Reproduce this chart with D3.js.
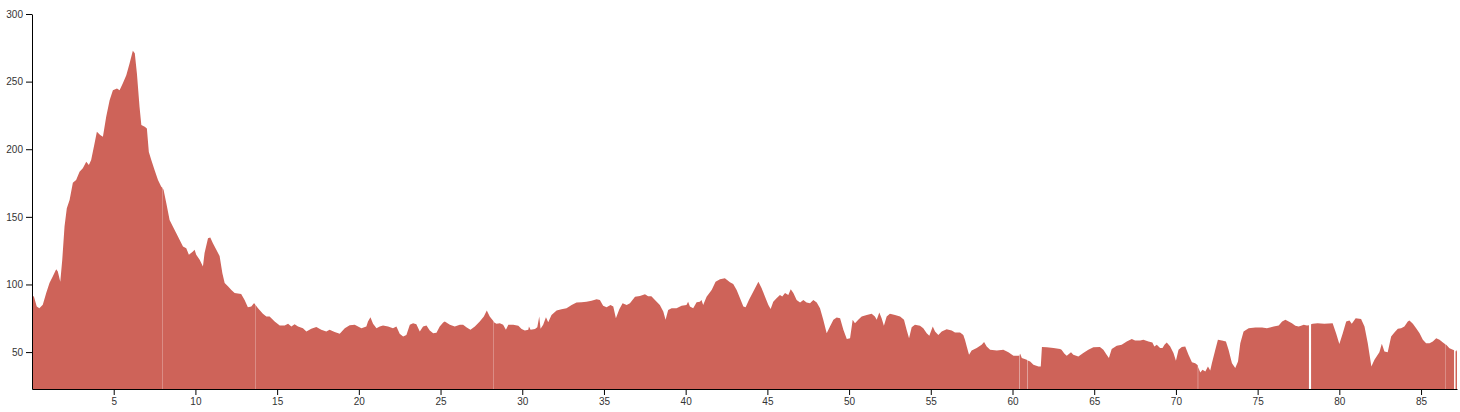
<!DOCTYPE html>
<html>
<head>
<meta charset="utf-8">
<script src="https://cdn.jsdelivr.net/npm/d3@7"></script>
<style>
  html, body { margin: 0; padding: 0; background: #fff; }
  svg { display: block; }
  .axis text { font-family: Arial, "Liberation Sans", sans-serif; font-size: 10px; fill: #333; }
</style>
</head>
<body>
<svg id="chart" width="1460" height="412"></svg>
<script>
// distance (km) along the route
const km = [
  0, 0.12, 0.29, 0.45, 0.66, 0.87, 1.07, 1.27, 1.48, 1.58, 1.73, 1.85, 1.99, 2.13, 2.3, 2.5, 2.7, 2.91, 3.11, 3.32,
  3.48, 3.62, 3.83, 3.97, 4.17, 4.34, 4.54, 4.75, 4.95, 5.2, 5.36, 5.56, 5.77, 5.97, 6.17, 6.29, 6.42, 6.58, 6.69, 6.9,
  7.03, 7.15, 7.3, 7.5, 7.71, 7.91, 7.982, 7.99, 7.998, 8.05, 8.22, 8.42, 8.62, 8.83, 9.03, 9.24, 9.44, 9.6, 9.85, 9.95,
  10.05, 10.26, 10.46, 10.56, 10.77, 10.91, 11.07, 11.28, 11.48, 11.65, 11.79, 11.99, 12.2, 12.4, 12.8, 13.01, 13.21, 13.42, 13.58, 13.652,
  13.66, 13.668, 13.83, 14.13, 14.34, 14.54, 14.85, 15.16, 15.46, 15.67, 15.87, 16.07, 16.28, 16.58, 16.79, 17.09, 17.4, 17.7, 18.01, 18.21,
  18.52, 18.83, 19.14, 19.44, 19.75, 19.95, 20.16, 20.46, 20.56, 20.71, 20.87, 21.08, 21.28, 21.48, 21.79, 22.09, 22.3, 22.5, 22.71, 22.91,
  23.12, 23.32, 23.52, 23.73, 23.93, 24.14, 24.34, 24.55, 24.75, 24.95, 25.16, 25.26, 25.57, 25.87, 26.18, 26.38, 26.58, 26.83, 27.1, 27.4,
  27.65, 27.83, 28.01, 28.22, 28.252, 28.26, 28.268, 28.42, 28.63, 28.83, 29.0, 29.15, 29.45, 29.76, 29.96, 30.16, 30.37, 30.41, 30.51, 30.78,
  30.92, 31.04, 31.12, 31.28, 31.45, 31.59, 31.79, 32.1, 32.4, 32.71, 33.02, 33.32, 33.63, 33.93, 34.24, 34.55, 34.75, 34.95, 35.16, 35.4,
  35.57, 35.73, 35.94, 36.14, 36.39, 36.59, 36.9, 37.2, 37.51, 37.7, 37.9, 38.12, 38.42, 38.63, 38.77, 38.93, 39.14, 39.44, 39.75, 40.05,
  40.15, 40.26, 40.46, 40.67, 40.87, 40.97, 41.07, 41.28, 41.59, 41.83, 42.1, 42.4, 42.71, 42.91, 43.12, 43.32, 43.53, 43.67, 43.87, 44.14,
  44.45, 44.65, 44.85, 45.06, 45.2, 45.36, 45.56, 45.77, 45.91, 46.08, 46.28, 46.43, 46.59, 46.79, 47.0, 47.2, 47.4, 47.61, 47.81, 48.02,
  48.22, 48.42, 48.63, 48.83, 49.04, 49.24, 49.45, 49.65, 49.86, 50.06, 50.22, 50.36, 50.56, 50.77, 51.08, 51.38, 51.58, 51.69, 51.85, 51.99,
  52.13, 52.3, 52.5, 52.81, 53.12, 53.36, 53.52, 53.67, 53.83, 54.03, 54.34, 54.54, 54.75, 54.91, 55.12, 55.26, 55.46, 55.67, 55.97, 56.28,
  56.48, 56.79, 56.99, 57.09, 57.2, 57.34, 57.5, 57.81, 58.11, 58.26, 58.42, 58.63, 59.04, 59.44, 59.75, 60.06, 60.36, 60.418, 60.43, 60.442,
  60.47, 60.57, 60.87, 60.908, 60.92, 60.932, 61.08, 61.28, 61.59, 61.73, 61.8, 62.1, 62.51, 62.91, 63.0, 63.18, 63.32, 63.58, 63.72, 64.03,
  64.33, 64.64, 64.95, 65.35, 65.56, 65.76, 65.9, 66.07, 66.38, 66.68, 66.99, 67.3, 67.5, 67.81, 68.01, 68.32, 68.56, 68.68, 68.83, 69.03,
  69.18, 69.3, 69.44, 69.65, 69.85, 70.0, 70.16, 70.36, 70.57, 70.77, 70.98, 71.18, 71.3, 71.34, 71.35, 71.36, 71.49, 71.63, 71.8, 71.96,
  72.1, 72.2, 72.41, 72.57, 72.82, 73.06, 73.22, 73.43, 73.63, 73.8, 73.94, 74.14, 74.45, 74.86, 75.27, 75.57, 75.98, 76.29, 76.5, 76.7,
  76.9, 77.1, 77.31, 77.51, 77.66, 77.82, 78.02, 78.14, 78.2, 78.27, 78.37, 78.67, 79.08, 79.59, 79.8, 80.0, 80.21, 80.42, 80.62, 80.76,
  81.0, 81.33, 81.54, 81.74, 81.96, 82.15, 82.35, 82.45, 82.6, 82.76, 82.96, 83.17, 83.37, 83.58, 83.78, 83.98, 84.19, 84.29, 84.5, 84.7,
  84.91, 85.11, 85.31, 85.52, 85.72, 85.93, 86.13, 86.34, 86.482, 86.49, 86.498, 86.54, 86.74, 86.95, 87.02, 87.07, 87.11, 87.15, 87.2
];

// measured value at each distance (null = missing reading)
const value = [
  92.3, 91, 83.7, 82.5, 85, 93.6, 101, 105.8, 111.3, 109.5, 102, 118, 142.8, 156.3, 162.5, 175.3, 177.3, 183.4, 185.9, 190.8,
  188.3, 192, 204.4, 213, 210.6, 209.2, 224, 236.3, 243.7, 245, 243.7, 248.7, 254.8, 263.4, 272.8, 271, 256, 231.4, 217.9, 216.6,
  215.4, 198, 192, 184.6, 177.3, 172.3, 171.5, null, 171, 170, 160, 147.7, 142.8, 137.9, 133, 128, 126.8, 121.9, 124.3, 125.6,
  122, 118.2, 113.2, 123.3, 134.2, 134.8, 130.5, 125.6, 121, 108.3, 101, 98.6, 96, 93.6, 93, 88.6, 83.2, 83.7, 86.2, 85.5,
  null, 85, 82.5, 78.3, 76.3, 76.3, 72.6, 69.6, 69.6, 71, 68.9, 70.5, 68.9, 67.7, 65.2, 67.2, 68.5, 66.5, 65.2, 66.5,
  64.8, 63.5, 67.7, 69.9, 70.2, 68.9, 67.7, 68.9, 72.6, 75.8, 71, 67.7, 68.9, 69.6, 68.9, 67.7, 68.9, 63.5, 61.5, 62.7,
  70.2, 71.4, 70.5, 65.2, 68.9, 69.6, 66, 64, 64.3, 68.9, 71.9, 72.6, 70.2, 68.9, 70.2, 70.2, 68.4, 66.5, 68.9, 72.6,
  76.3, 80.7, 76.3, 73.1, 72.5, null, 72, 70.9, 71.4, 70.2, 66.5, 70.2, 70.2, 69.4, 67, 66, 66.5, 68.9, 66.5, 67,
  68.4, 76.3, 67.2, 70.2, 75.8, 72, 77.5, 80.7, 81.7, 82.4, 84.9, 86.6, 86.8, 87.3, 88, 89.1, 88.6, 84.2, 83.2, 84.9,
  83.7, 75.1, 81.7, 86.1, 84.9, 86.1, 91, 91.5, 92.8, 91.3, 91.3, 88.6, 84.9, 80, 73.9, 81.2, 82.4, 82.4, 84.2, 84.9,
  87.3, 83.7, 82.4, 86.8, 87.3, 88.6, 84.9, 91, 96, 102.1, 103.8, 104.6, 101.6, 100.4, 96, 89.9, 83.7, 83.2, 88.6, 94.8,
  102.1, 97.2, 91.1, 84.9, 81.8, 87.3, 89.8, 92.3, 91.1, 93.6, 92.3, 96.5, 93.6, 88.6, 86.6, 88.6, 86.6, 86.1, 88.6, 86.6,
  82.4, 73.9, 64, 68.9, 73.9, 75.6, 75.1, 66.5, 59.6, 60.3, 73.9, 71.4, 73.9, 76.3, 77.5, 78.3, 76.3, 73.9, 79.3, 75.1,
  69.4, 76.3, 78.3, 77.5, 76.3, 73.9, 66.5, 60.3, 68.4, 70.2, 69.4, 67.7, 64, 62.1, 68.9, 65.2, 62.7, 65.2, 66.9, 66,
  64.5, 64.5, 62.7, 59.1, 54.2, 48, 51.2, 53, 55.4, 57.4, 54.2, 51.7, 51.2, 51.7, 49.8, 47.3, 47.3, 47.5, null, 48.2,
  48.8, 45.6, 44.3, 44, null, 43.8, 43.1, 40.6, 39.4, 39.4, 53.7, 53.5, 53, 52.2, 51.7, 48.8, 47.3, 49.8, 48, 46.8,
  49.3, 51.7, 53.5, 53.7, 51.7, 48, 45.6, 52.2, 54.7, 55.4, 57.8, 59.6, 58.6, 58.6, 59.1, 57.8, 57.1, 54.2, 55.4, 53,
  53, 55.4, 57.1, 54.2, 49.3, 43.6, 51.7, 53.7, 54.2, 48, 42.4, 41.8, 40.6, 40, null, 39, 34.9, 36.9, 35.6, 39.4,
  36.4, 41.8, 51.7, 59.1, 58.6, 57.8, 51.7, 41.8, 38.2, 43.1, 56.6, 65.2, 67.7, 68.2, 68.2, 67.7, 68.9, 69.6, 72.6, 73.9,
  72.6, 71.4, 69.4, 68.9, 69.4, 70.2, 69.6, 69.8, null, 70.5, 70.9, 71.4, 70.9, 71.4, 64, 55.9, 64, 72.6, 73.3, 70.9,
  75.1, 74.4, 68.9, 56.6, 39.4, 44.3, 48, 49.8, 56.1, 50.5, 49.8, 61.5, 64.5, 67.2, 67.7, 68.9, 72.6, 73.3, 70.9, 67.7,
  64, 59.1, 56.6, 56.6, 57.8, 60.3, 59.1, 57.1, 55.8, null, 55.6, 55.4, 52.9, 51.7, 51.3, null, 50.8, 50.5, 51.7
];

const xTicks = [5, 10, 15, 20, 25, 30, 35, 40, 45, 50, 55, 60, 65, 70, 75, 80, 85];
const yTicks = [50, 100, 150, 200, 250, 300];
const xDomain = [0, 87.2];
const yDomain = [22.7, 300];

const data = km.map((k, i) => ({ k, v: value[i] }));

const margin = { top: 14, right: 3, bottom: 23, left: 32 };
const W = 1460, H = 412;
const innerW = W - margin.left - margin.right;
const innerH = H - margin.top - margin.bottom;

const svg = d3.select("#chart");
const g = svg.append("g").attr("transform", `translate(${margin.left},${margin.top})`);

const x = d3.scaleLinear().domain(xDomain).range([0, innerW]);
const y = d3.scaleLinear().domain(yDomain).range([innerH, 0]);

const area = d3.area()
  .defined(d => d.v != null)
  .x(d => x(d.k))
  .y0(y(yDomain[0]))
  .y1(d => y(d.v));

g.append("path")
  .datum(data)
  .attr("fill", "#ce6359")
  .attr("d", area);

g.append("g")
  .attr("class", "axis")
  .attr("transform", `translate(0,${innerH})`)
  .call(d3.axisBottom(x).tickValues(xTicks).tickSizeOuter(0).tickFormat(d3.format("d")));

g.append("g")
  .attr("class", "axis")
  .call(d3.axisLeft(y).tickValues(yTicks).tickSizeOuter(0).tickFormat(d3.format("d")));
</script>
</body>
</html>
